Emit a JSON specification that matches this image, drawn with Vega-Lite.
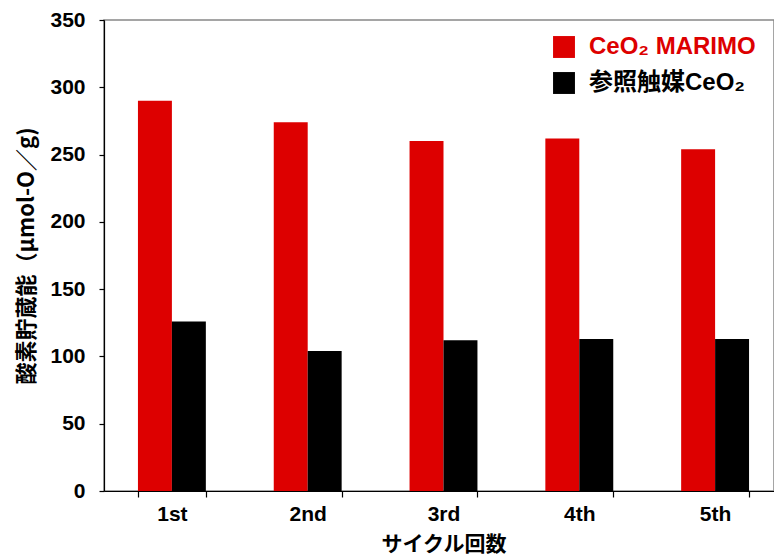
{
  "$schema": "https://vega.github.io/schema/vega-lite/v6.json",
  "width": 670,
  "height": 471,
  "autosize": {"type": "none"},
  "padding": {"left": 104, "top": 20, "right": 0, "bottom": 65},
  "background": "white",
  "data": {
    "values": [
      {"cycle": "1st", "series": "CeO₂ MARIMO", "value": 290},
      {"cycle": "1st", "series": "参照触媒CeO₂", "value": 126},
      {"cycle": "2nd", "series": "CeO₂ MARIMO", "value": 274},
      {"cycle": "2nd", "series": "参照触媒CeO₂", "value": 104},
      {"cycle": "3rd", "series": "CeO₂ MARIMO", "value": 260},
      {"cycle": "3rd", "series": "参照触媒CeO₂", "value": 112},
      {"cycle": "4th", "series": "CeO₂ MARIMO", "value": 262},
      {"cycle": "4th", "series": "参照触媒CeO₂", "value": 113},
      {"cycle": "5th", "series": "CeO₂ MARIMO", "value": 254},
      {"cycle": "5th", "series": "参照触媒CeO₂", "value": 113}
    ]
  },
  "config": {
    "view": {"stroke": "#888888", "strokeWidth": 1.5},
    "axis": {"grid": false, "zindex": 1, "domainColor": "#000000", "tickColor": "#000000", "domainWidth": 1.2, "tickWidth": 1.2, "labelColor": "#000000", "titleColor": "#000000"}
  },
  "mark": {"type": "bar"},
  "encoding": {
    "x": {
      "field": "cycle",
      "type": "nominal",
      "sort": ["1st", "2nd", "3rd", "4th", "5th"],
      "scale": {"paddingInner": 0.5, "paddingOuter": 0.25, "range": [0, 679]},
      "axis": {
        "title": "サイクル回数",
        "titleFont": "Noto Sans CJK JP",
        "titleFontWeight": "bold",
        "titleFontSize": 21,
        "titlePadding": 9,
        "labelAngle": 0,
        "labelFont": "Liberation Sans, Arial, sans-serif",
        "labelFontWeight": "bold",
        "labelFontSize": 21,
        "labelPadding": 6,
        "tickBand": "extent",
        "tickSize": 6
      }
    },
    "xOffset": {"field": "series", "type": "nominal", "sort": ["CeO₂ MARIMO", "参照触媒CeO₂"], "scale": {"paddingInner": 0, "paddingOuter": 0}},
    "y": {
      "field": "value",
      "type": "quantitative",
      "scale": {"domain": [0, 350], "nice": false},
      "axis": {
        "values": [0, 50, 100, 150, 200, 250, 300, 350],
        "title": "酸素貯蔵能（μmol-O／g)",
        "titleFont": "Noto Sans CJK JP",
        "titleFontWeight": "bold",
        "titleFontSize": 22,
        "titlePadding": 11,
        "labelFont": "Liberation Sans, Arial, sans-serif",
        "labelFontWeight": "bold",
        "labelFontSize": 21,
        "labelPadding": 14,
        "tickSize": 5
      }
    },
    "color": {
      "field": "series",
      "type": "nominal",
      "sort": ["CeO₂ MARIMO", "参照触媒CeO₂"],
      "scale": {"domain": ["CeO₂ MARIMO", "参照触媒CeO₂"], "range": ["#dd0000", "#000000"]},
      "legend": {
        "title": null,
        "orient": "none",
        "legendX": 448,
        "legendY": 15,
        "padding": 0,
        "symbolType": "square",
        "symbolSize": 480,
        "symbolStrokeWidth": 0,
        "rowPadding": 12,
        "labelOffset": 13,
        "labelFont": "Liberation Sans, Noto Sans CJK JP, sans-serif",
        "labelFontWeight": "bold",
        "labelFontSize": 24,
        "labelLimit": 300,
        "encode": {
          "labels": {"update": {"fill": {"signal": "datum.value == 'CeO₂ MARIMO' ? '#dd0000' : '#000000'"}}}
        }
      }
    }
  }
}
